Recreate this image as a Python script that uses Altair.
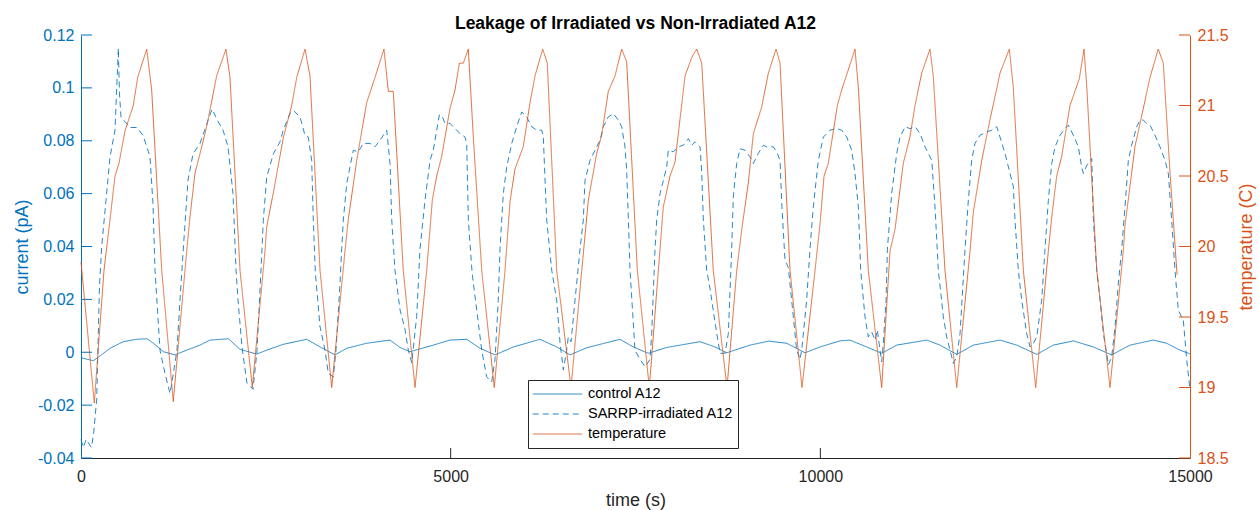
import altair as alt
import pandas as pd

# ---- styling constants ----
BLUE = "#0072BD"
ORANGE = "#D95319"
AXIS_GREY = "#262626"
FONT = "Liberation Sans"
W, H = 1109, 423
LINE_OPACITY = 0.85

SERIES = ["control A12", "SARRP-irradiated A12", "temperature"]

# ---- tick positions ----
X_TICKS = [0, 5000, 10000, 15000]
PA_TICKS = [-0.04, -0.02, 0, 0.02, 0.04, 0.06, 0.08, 0.1, 0.12]
C_TICKS = [18.5, 19, 19.5, 20, 20.5, 21, 21.5]

# ---- temperature (C) vs time (s) ----
TEMP_T = [0, 180, 311, 392, 460, 514, 595, 707, 767, 889, 956, 1092, 1248,
          1430, 1474, 1542, 1610, 1700, 1835, 1961, 2015, 2151, 2317,
          2489, 2512, 2601, 2736, 2850, 2918, 3030, 3097, 3233, 3391,
          3571, 3615, 3729, 3864, 3977, 4098, 4157, 4224, 4359, 4518,
          4676, 4752, 4811, 4879, 4991, 5059, 5117, 5171, 5239, 5306, 5420, 5590,
          5735, 5803, 5870, 5983, 6073, 6141, 6245, 6307, 6434, 6628,
          6773, 6862, 6975, 7043, 7132, 7223, 7313, 7381, 7525, 7687,
          7809, 7876, 7967, 8035, 8170, 8260, 8328, 8396, 8552, 8738,
          8869, 8937, 9026, 9094, 9207, 9297, 9401, 9455, 9590, 9752,
          9928, 9996, 10050, 10108, 10230, 10289, 10469, 10514, 10649, 10830,
          10943, 11010, 11122, 11213, 11281, 11371, 11483, 11528, 11686, 11845,
          12025, 12069, 12183, 12295, 12386, 12430, 12556, 12610, 12746, 12913,
          13084, 13130, 13197, 13265, 13377, 13503, 13567, 13604, 13739, 13918,
          14098, 14121, 14256, 14369, 14459, 14571, 14639, 14730, 14825]
TEMP_C = [19.89, 18.89, 19.83, 20.19, 20.5, 20.59, 20.82, 21.0, 21.2, 21.4, 21.11, 19.83, 18.9,
          19.97, 20.21, 20.52, 20.66, 20.85, 21.21, 21.4, 21.2, 19.83, 19.0,
          19.97, 20.14, 20.38, 20.77, 21.0, 21.2, 21.4, 21.21, 19.83, 19.0,
          19.97, 20.19, 20.61, 21.02, 21.2, 21.4, 21.1, 21.1, 19.83, 19.0,
          19.83, 20.33, 20.5, 20.64, 20.98, 21.11, 21.3, 21.3, 21.4, 20.78, 19.83, 19.0,
          19.83, 20.32, 20.55, 20.71, 21.02, 21.21, 21.4, 21.3, 19.83, 19.0,
          19.83, 20.33, 20.66, 20.79, 21.1, 21.21, 21.4, 21.31, 19.83, 19.0,
          19.83, 20.28, 20.5, 20.6, 21.21, 21.34, 21.4, 21.3, 19.83, 19.0,
          19.83, 20.12, 20.45, 20.8, 20.99, 21.23, 21.4, 21.3, 19.83, 19.0,
          19.83, 20.16, 20.5, 20.59, 21.0, 21.11, 21.4, 21.13, 19.83, 19.0,
          19.97, 20.12, 20.59, 20.78, 21.0, 21.23, 21.4, 21.21, 19.83, 19.0,
          19.97, 20.24, 20.61, 20.9, 21.12, 21.23, 21.4, 21.13, 19.83, 19.0,
          19.97, 20.21, 20.5, 20.64, 21.0, 21.19, 21.4, 21.13, 19.83, 19.0,
          19.97, 20.15, 20.71, 20.98, 21.2, 21.4, 21.3, 20.52, 19.8]

# ---- control A12 leakage current (pA) ----
CTRL_T = [0, 31, 167, 257, 392, 572, 753, 892, 979, 1115,
          1271, 1430, 1610, 1745, 1993, 2151, 2376, 2512, 2736, 3053,
          3233, 3436, 3594, 3864, 4180, 4315, 4450, 4765, 4991, 5217,
          5397, 5600, 5848, 6208, 6434, 6614, 6840, 7290, 7470, 7673,
          7922, 8373, 8576, 8734, 9049, 9300, 9545, 9793, 9996, 10266, 10401,
          10627, 10830, 11033, 11439, 11619, 11845, 12069, 12430, 12656, 12927,
          13151, 13422, 13693, 13941, 14189, 14504, 14684, 14864, 15000]
CTRL_PA = [-0.0020, -0.0023, -0.0032, -0.0014, 0.0015, 0.0040, 0.0049, 0.0051, 0.0034, 0.0002,
           -0.0010, 0.0008, 0.0027, 0.0046, 0.0051, 0.0011, -0.0007, 0.0008, 0.0030, 0.0049,
           0.0020, -0.0010, 0.0015, 0.0034, 0.0046, 0.0018, 0.0002, 0.0027, 0.0046, 0.0049,
           0.0015, -0.0010, 0.0020, 0.0049, 0.0020, -0.0010, 0.0017, 0.0049, 0.0020, -0.0004,
           0.0018, 0.0040, 0.0020, -0.0002, 0.0027, 0.0042, 0.0034, -0.0002, 0.0020, 0.0043, 0.0046,
           0.0020, -0.0004, 0.0027, 0.0046, 0.0027, -0.0008, 0.0027, 0.0046, 0.0027, -0.0008,
           0.0027, 0.0043, 0.0020, -0.0010, 0.0027, 0.0046, 0.0034, 0.0008, -0.0006]

# ---- SARRP-irradiated A12 leakage current (pA) ----
SARRP_T = [0, 30, 70, 140, 170, 212, 250, 280, 338, 392, 460, 505, 520, 541, 663, 757, 839, 933,
           974, 1001, 1069, 1136, 1204, 1244, 1298, 1339, 1380, 1447, 1515, 1610, 1704, 1772,
           1840, 1921, 1988, 2056, 2097, 2124, 2178, 2245, 2327, 2381, 2448,
           2466, 2512, 2601, 2692, 2736, 2827, 2872, 2962, 3030, 3074, 3120, 3142, 3170, 3233,
           3300, 3345, 3413, 3449, 3503, 3526,
           3548, 3594, 3683, 3751, 3818, 3909, 3977, 4044, 4135, 4180, 4203, 4247, 4315, 4380,
           4427, 4473, 4540, 4585,
           4653, 4721, 4765, 4811, 4847, 4879, 4923, 4991, 5059, 5126, 5194, 5217, 5239, 5290,
           5370, 5420, 5487, 5555, 5600, 5644, 5667,
           5712, 5758, 5826, 5893, 5961, 6029, 6096, 6164, 6232, 6253, 6299, 6367, 6434, 6479,
           6524, 6569, 6591, 6628, 6682, 6750,
           6794, 6817, 6885, 6952, 7020, 7065, 7132, 7200, 7268, 7313, 7358, 7381, 7426, 7493,
           7561, 7629, 7696, 7719, 7764,
           7787, 7832, 7922, 7944, 8012, 8079, 8147, 8215, 8260, 8305, 8373, 8396, 8418, 8463,
           8508, 8599, 8644, 8711, 8756, 8801,
           8823, 8869, 8914, 8981, 9049, 9094, 9161, 9229, 9274, 9364, 9410, 9455, 9478, 9522,
           9567, 9635, 9680, 9725, 9748, 9815, 9860,
           9905, 9973, 10041, 10131, 10221, 10289, 10357, 10424, 10469, 10514, 10546, 10604,
           10649, 10695, 10740, 10771, 10807, 10830, 10852, 10889, 10907,
           10965, 11033, 11078, 11146, 11213, 11281, 11349, 11416, 11507, 11551, 11596, 11664,
           11709, 11754, 11799, 11845, 11890, 11935, 11957,
           12002, 12047, 12092, 12160, 12250, 12318, 12386, 12430, 12498, 12566, 12611, 12633,
           12678, 12724, 12791, 12836, 12881, 12927, 12994, 13039,
           13084, 13130, 13174, 13242, 13310, 13355, 13422, 13490, 13535, 13558, 13604, 13671,
           13693, 13739, 13784, 13828, 13873, 13896, 13941, 13986, 14031, 14076,
           14121, 14166, 14211, 14279, 14324, 14369, 14414, 14459, 14527, 14594, 14662, 14707,
           14752, 14797, 14842, 14910, 14955, 15000]
SARRP_PA = [-0.033, -0.036, -0.033, -0.036, -0.031, -0.018, 0.025, 0.040, 0.0575, 0.0738, 0.084,
            0.115, 0.098, 0.089, 0.085, 0.085, 0.082, 0.074,
            0.056, 0.031, 0.0007, -0.008, -0.0156, -0.009, 0.0007, 0.0197, 0.0375, 0.065, 0.075,
            0.079, 0.0866, 0.092,
            0.088, 0.084, 0.0778, 0.060, 0.031, 0.0197, 0.0018, -0.0117, -0.014, 0.0007, 0.039,
            0.05, 0.0663, 0.075, 0.0796, 0.084, 0.0903, 0.0915, 0.089, 0.082, 0.0814, 0.0726,
            0.05, 0.030, 0.0097,
            0.0008, -0.008, -0.0093, 0.0008, 0.026, 0.039,
            0.05, 0.0638, 0.0764, 0.0758, 0.079, 0.079, 0.0777, 0.0802, 0.084, 0.0714, 0.05,
            0.031, 0.016, 0.009,
            0.0008, -0.004, 0.0134, 0.039,
            0.0575, 0.0726, 0.0764, 0.084, 0.0897, 0.0897, 0.0866, 0.0866, 0.0846, 0.0827,
            0.0814, 0.079, 0.05, 0.030,
            0.012, 0.0008, -0.0093, -0.0112, -0.0027, 0.0197, 0.039,
            0.06, 0.070, 0.079, 0.0853, 0.0909, 0.089, 0.0853, 0.084, 0.084, 0.0814, 0.05,
            0.031, 0.0197, 0.0037,
            -0.0067, 0.0008, 0.0058, 0.004, 0.0197, 0.039,
            0.05, 0.065, 0.0726, 0.0764, 0.0802, 0.0853, 0.089, 0.0903, 0.0878, 0.0853, 0.0777,
            0.0689, 0.031, 0.0008,
            -0.0027, -0.0055, -0.0027, 0.0071, 0.039,
            0.05, 0.06, 0.070, 0.0764, 0.0758, 0.0777, 0.0783, 0.0808, 0.0783, 0.0796, 0.0777,
            0.0676, 0.05, 0.031,
            0.024, 0.0071, -0.0004, -0.0004, 0.0071, 0.039,
            0.059, 0.0714, 0.077, 0.0764, 0.0739, 0.0714, 0.0752, 0.0783, 0.0777, 0.0777,
            0.0758, 0.0726, 0.0563, 0.035,
            0.032, 0.0134, 0.0008, -0.0027, 0.0008, 0.0197, 0.039,
            0.055, 0.0726, 0.0814, 0.084, 0.0846, 0.084, 0.0814, 0.0764, 0.0676, 0.055, 0.031,
            0.0134,
            0.0058, 0.0077, 0.0046, 0.0084, 0.0008, -0.0036, 0.0033, 0.0197, 0.039,
            0.06, 0.0752, 0.0814, 0.0853, 0.0846, 0.0853, 0.0827, 0.0777, 0.0726, 0.055, 0.031,
            0.0134,
            0.0058, 0.0008, -0.0042, -0.0017, 0.0071, 0.0286, 0.039,
            0.0575, 0.0726, 0.079, 0.0821, 0.0833, 0.084, 0.0853, 0.0814, 0.0752, 0.0676,
            0.0626, 0.05,
            0.031, 0.0197, 0.0071, 0.002, 0.0033, 0.0058, 0.0197, 0.039,
            0.0575, 0.0714, 0.0777, 0.0821, 0.0846, 0.0859, 0.0821, 0.0777, 0.070, 0.0676,
            0.0707, 0.0733,
            0.05, 0.031, 0.0197, 0.0071, -0.0004, -0.0048, -0.0017, 0.0097, 0.026, 0.039,
            0.055, 0.0726, 0.0783, 0.0853, 0.0878, 0.0878, 0.0866, 0.0859, 0.0821, 0.0777,
            0.0726, 0.0676,
            0.05, 0.031, 0.0159, 0.012, -0.0027, -0.0143]

current_df = pd.DataFrame({
    "t": CTRL_T + SARRP_T,
    "pA": CTRL_PA + SARRP_PA,
    "series": [SERIES[0]] * len(CTRL_T) + [SERIES[1]] * len(SARRP_T),
})
temp_df = pd.DataFrame({"t": TEMP_T, "degC": TEMP_C, "series": SERIES[2]})

x_scale = alt.Scale(domain=[0, 15000], nice=False, zero=False)
pa_scale = alt.Scale(domain=[-0.04, 0.12], nice=False, zero=False)
c_scale = alt.Scale(domain=[18.5, 21.5], nice=False, zero=False)

x_axis = alt.Axis(title="time (s)", values=X_TICKS, format="d", ticks=False, grid=False,
                  labelFlush=False,
                  domainColor=AXIS_GREY, labelColor=AXIS_GREY, titleColor=AXIS_GREY,
                  labelFontSize=16, titleFontSize=18, labelPadding=10, titlePadding=7,
                  titleFontWeight="normal")
pa_axis = alt.Axis(title="current (pA)", values=PA_TICKS, ticks=False, grid=False,
                   labelFlush=False,
                   labelExpr="datum.value < 0 ? '-' + format(-datum.value, '~g') : format(datum.value, '~g')",
                   domainColor=BLUE, labelColor=BLUE, titleColor=BLUE,
                   labelFontSize=16, titleFontSize=18, labelPadding=7, titlePadding=6,
                   titleFontWeight="normal")
c_axis = alt.Axis(title="temperature (C)", orient="right", values=C_TICKS, format="~g",
                  ticks=False, grid=False, labelFlush=False,
                  domainColor=ORANGE, labelColor=ORANGE,
                  titleColor=ORANGE, labelFontSize=16, titleFontSize=18, labelPadding=7,
                  titlePadding=27, titleAngle=270, titleFontWeight="normal")

x_enc = alt.X("t:Q", scale=x_scale, axis=x_axis)

legend = alt.Legend(
    title=None, orient="none", legendX=447, legendY=345, symbolType="stroke",
    symbolSize=2450, symbolStrokeWidth=1, symbolOpacity=LINE_OPACITY, clipHeight=20,
    rowPadding=0, padding=4, labelOffset=5, labelFontSize=14.5, labelColor="black",
    labelLimit=400, strokeColor=AXIS_GREY, fillColor="white",
)
color_enc = alt.Color("series:N", scale=alt.Scale(domain=SERIES, range=[BLUE, BLUE, ORANGE]),
                      legend=legend)
dash_enc = alt.StrokeDash("series:N",
                          scale=alt.Scale(domain=SERIES, range=[[1, 0], [6, 4], [1, 0]]),
                          legend=legend)

# left axis: leakage currents
current_lines = alt.Chart(current_df).mark_line(strokeWidth=1, opacity=LINE_OPACITY).encode(
    x=x_enc,
    y=alt.Y("pA:Q", scale=pa_scale, axis=pa_axis),
    color=color_enc,
    strokeDash=dash_enc,
    order=alt.Order("t:Q"),
)

# inward tick marks on the left and bottom axes
left_ticks = alt.Chart(pd.DataFrame({"pA": PA_TICKS})).mark_rule(color=BLUE, strokeWidth=1).encode(
    y=alt.Y("pA:Q", scale=pa_scale, axis=pa_axis),
    x=alt.value(0), x2=alt.value(11),
)
bottom_ticks = alt.Chart(pd.DataFrame({"t": X_TICKS[1:-1]})).mark_rule(color=AXIS_GREY, strokeWidth=1).encode(
    x=x_enc,
    y=alt.value(H - 10), y2=alt.value(H),
)

left = alt.layer(current_lines, left_ticks, bottom_ticks)

# right axis: temperature
temp_line = alt.Chart(temp_df).mark_line(strokeWidth=1, opacity=LINE_OPACITY).encode(
    x=x_enc,
    y=alt.Y("degC:Q", scale=c_scale, axis=c_axis),
    color=color_enc,
    strokeDash=dash_enc,
)
right_ticks = alt.Chart(pd.DataFrame({"degC": C_TICKS})).mark_rule(color=ORANGE, strokeWidth=1).encode(
    y=alt.Y("degC:Q", scale=c_scale, axis=c_axis),
    x=alt.value(W - 11), x2=alt.value(W),
)
right = alt.layer(temp_line, right_ticks)

chart = alt.layer(left, right).resolve_scale(y="independent").properties(
    width=W, height=H,
    title=alt.Title("Leakage of Irradiated vs Non-Irradiated A12", fontSize=17.5,
                    fontWeight="bold", color="black", anchor="middle", offset=7, dy=12),
    autosize=alt.AutoSizeParams(type="none"),
    padding={"left": 81, "top": 35, "right": 69, "bottom": 52},
    background="white",
).configure(font=FONT).configure_view(strokeWidth=0).configure_legend(
    strokeWidth=1, cornerRadius=0
).configure_axis(labelFont=FONT, titleFont=FONT, domainWidth=1)

chart.save("out.html", embed_options={"renderer": "svg", "actions": False})
